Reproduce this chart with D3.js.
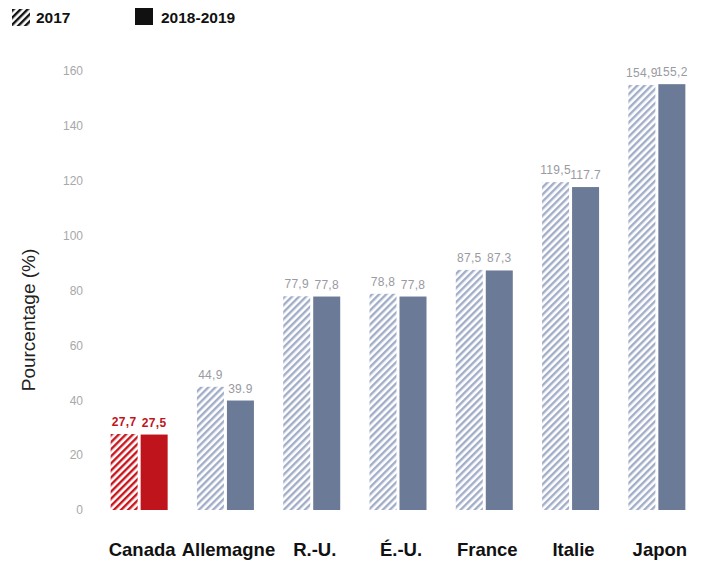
<!DOCTYPE html>
<html>
<head>
<meta charset="utf-8">
<script src="https://cdn.jsdelivr.net/npm/d3@7"></script>
<style>
  body { margin: 0; background: #fff; }
  svg { font-family: "Liberation Sans", Arial, sans-serif; }
</style>
</head>
<body>
<svg id="chart" width="701" height="562"></svg>
<script>
var countries = ['Canada', 'Allemagne', 'R.-U.', 'É.-U.', 'France', 'Italie', 'Japon'];
var values2017 = [27.7, 44.9, 77.9, 78.8, 87.5, 119.5, 154.9];
var values2018 = [27.5, 39.9, 77.8, 77.8, 87.3, 117.7, 155.2];
var labels2017 = ['27,7', '44,9', '77,9', '78,8', '87,5', '119,5', '154,9'];
var labels2018 = ['27,5', '39.9', '77,8', '77,8', '87,3', '117.7', '155,2'];
var yTicks = [0, 20, 40, 60, 80, 100, 120, 140, 160];

var svg = d3.select('#chart');
var defs = svg.append('defs');

function hatch(id, color) {
  var p = defs.append('pattern')
    .attr('id', id)
    .attr('patternUnits', 'userSpaceOnUse')
    .attr('width', 5).attr('height', 5)
    .attr('patternTransform', 'rotate(45)');
  p.append('rect').attr('width', 5).attr('height', 5).attr('fill', '#fff');
  p.append('rect').attr('width', 2.4).attr('height', 5).attr('fill', color);
}
hatch('hatchBlue', '#a2aec8');
hatch('hatchRed', '#c8161e');
hatch('hatchBlack', '#111');

var y = d3.scaleLinear().domain([0, 160]).range([510, 71]);
var x = d3.scaleBand().domain(countries).range([96, 700]).paddingInner(0).paddingOuter(0);
var bw = 27, gap = 3;

// y axis ticks
var axis = svg.append('g').attr('transform', 'translate(83,0)')
  .call(d3.axisLeft(y).tickValues(yTicks).tickSize(0).tickPadding(0));
axis.select('.domain').remove();
axis.selectAll('text')
  .attr('fill', '#a8a8a8')
  .style('font-size', '12px')
  .style('font-family', '"Liberation Sans", Arial, sans-serif');

svg.append('text')
  .attr('transform', 'translate(35,320) rotate(-90)')
  .attr('text-anchor', 'middle')
  .attr('fill', '#222')
  .style('font-size', '19px')
  .text('Pourcentage (%)');

var g = svg.append('g');
countries.forEach(function (c, i) {
  var cx = x(c) + x.bandwidth() / 2;
  var red = i === 0;
  var x1 = cx - gap / 2 - bw, x2 = cx + gap / 2;
  g.append('rect')
    .attr('x', x1).attr('width', bw)
    .attr('y', y(values2017[i])).attr('height', y(0) - y(values2017[i]))
    .attr('fill', red ? 'url(#hatchRed)' : 'url(#hatchBlue)');
  g.append('rect')
    .attr('x', x2).attr('width', bw)
    .attr('y', y(values2018[i])).attr('height', y(0) - y(values2018[i]))
    .attr('fill', red ? '#c0141c' : '#6b7a96');

  var lblStyle = function (t) {
    t.attr('text-anchor', 'middle')
      .attr('fill', red ? '#c0141c' : '#999aa2')
      .style('font-size', '12px')
      .style('font-weight', red ? 'bold' : 'normal')
      .style('letter-spacing', '0.3px');
  };
  g.append('text')
    .attr('x', x1 + bw / 2).attr('y', y(values2017[i]) - 8)
    .text(labels2017[i]).call(lblStyle);
  g.append('text')
    .attr('x', x2 + bw / 2).attr('y', y(values2018[i]) - 8)
    .text(labels2018[i]).call(lblStyle);

  g.append('text')
    .attr('x', cx + 3).attr('y', 556)
    .attr('text-anchor', 'middle')
    .attr('fill', '#111')
    .style('font-size', '18.5px')
    .style('font-weight', 'bold')
    .text(c);
});

// legend
var leg = svg.append('g');
leg.append('rect').attr('x', 12).attr('y', 9).attr('width', 18).attr('height', 17).attr('fill', 'url(#hatchBlack)');
leg.append('text').attr('x', 36).attr('y', 23).style('font-size', '15.5px').style('font-weight', 'bold').attr('fill', '#111').text('2017');
leg.append('rect').attr('x', 135).attr('y', 8).attr('width', 18).attr('height', 17).attr('fill', '#111');
leg.append('text').attr('x', 161).attr('y', 23).style('font-size', '15.5px').style('font-weight', 'bold').attr('fill', '#111').text('2018-2019');
</script>
</body>
</html>
